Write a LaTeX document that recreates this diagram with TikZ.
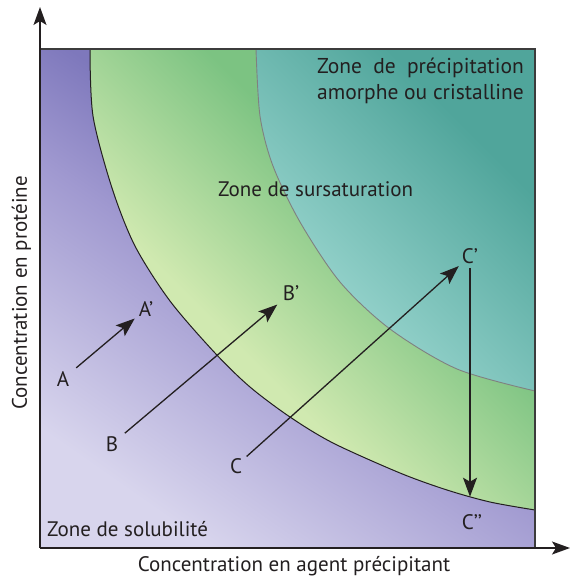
\documentclass[tikz,border=0pt]{standalone}
\usepackage{fontspec}
\setmainfont{PT Sans}
\usetikzlibrary{arrows.meta}

\definecolor{txt}{RGB}{35,31,32}
\definecolor{frame}{RGB}{60,60,60}
\definecolor{solA}{RGB}{216,213,237}
\definecolor{solM}{RGB}{160,153,208}
\definecolor{solB}{RGB}{126,120,188}
\definecolor{surA}{RGB}{208,233,176}
\definecolor{surB}{RGB}{124,195,130}
\definecolor{preA}{RGB}{150,211,204}
\definecolor{preB}{RGB}{80,165,155}

\pgfdeclarehorizontalshading{solzone}{100bp}{color(0bp)=(solA); color(25bp)=(solA); color(47bp)=(solM); color(58bp)=(solB); color(100bp)=(solB)}
\pgfdeclarehorizontalshading{surzone}{100bp}{color(0bp)=(surA); color(43bp)=(surA); color(62bp)=(surB); color(100bp)=(surB)}
\pgfdeclarehorizontalshading{prezone}{100bp}{color(0bp)=(preA); color(53bp)=(preA); color(75bp)=(preB); color(100bp)=(preB)}

\newlength{\precw}

\begin{document}
\settowidth{\precw}{\fontsize{21.5}{25}\selectfont amorphe ou cristalline}%
\begin{tikzpicture}[x=1pt, y=-1pt,
  lbl/.style={font=\fontsize{21}{25}\selectfont, text=txt, inner sep=0pt},
  arr/.style={-{Stealth[length=19pt, width=14pt, inset=4pt]}, line width=1.3pt, draw=txt},
  axis/.style={-{Stealth[length=18pt, width=13pt, inset=4pt]}, line width=1.3pt, draw=txt}]
  \useasboundingbox (0,0) rectangle (571,579);
  % zones
  \shade[shading=solzone, shading angle=55] (40,49) rectangle (535,548);
  \begin{scope}
    \clip (90,49) -- plot[smooth] coordinates {(90,49) (93,116) (112,188) (135,246) (170,301) (215,353) (250,387) (290,417) (333,443) (400,473) (447,490) (490,502) (535,510)} -- (535,49) -- cycle;
    \shade[shading=surzone, shading angle=45] (40,49) rectangle (535,548);
  \end{scope}
  \begin{scope}
    \clip (256,49) -- plot[smooth] coordinates {(256,49) (260,116) (273,166) (300,222) (340,282) (390,329) (457,369) (535,391)} -- (535,49) -- cycle;
    \shade[shading=prezone, shading angle=45] (40,49) rectangle (535,548);
  \end{scope}
  % boundaries
  \draw[line width=1pt, txt] plot[smooth] coordinates {(90,49) (93,116) (112,188) (135,246) (170,301) (215,353) (250,387) (290,417) (333,443) (400,473) (447,490) (490,502) (535,510)};
  \draw[line width=0.9pt, gray] plot[smooth] coordinates {(256,49) (260,116) (273,166) (300,222) (340,282) (390,329) (457,369) (535,391)};
  % frame and axes
  \draw[line width=1.2pt, frame] (40,49) -- (535,49) -- (535,548);
  \coordinate (O) at (40,548);
  \coordinate (ytop) at (40,7);
  \coordinate (xend) at (570,548);
  \draw[axis] (O) -- (ytop);
  \draw[axis] (O) -- (xend);
  % zone labels
  \node[lbl, font=\fontsize{21.5}{25}\selectfont, anchor=base east] (prec1) at (524,73) {\makebox[\precw][s]{Zone de précipitation}};
  \node[lbl, font=\fontsize{21.5}{25}\selectfont, anchor=base east] (prec2) at (524,99) {amorphe ou cristalline};
  \node[lbl, anchor=base west] (sur) at (218,196) {Zone de sursaturation};
  \node[lbl, anchor=base west] (sol) at (47,536) {Zone de solubilité};
  % axis labels
  \node[lbl, anchor=base] (xlab) at (294,571) {Concentration en agent précipitant};
  \node[lbl, anchor=base, rotate=90] (ylab) at (27,293) {Concentration en protéine};
  % points
  \node[lbl] (A) at (63,379) {A};
  \node[lbl] (Ap) at (146,309) {A’};
  \node[lbl] (B) at (112,444) {B};
  \node[lbl] (Bp) at (291,293) {B’};
  \node[lbl] (C) at (236,466) {C};
  \node[lbl] (Cp) at (470,256) {C’};
  \node[lbl] (Cpp) at (472,522) {C’’};
  % paths
  \draw[arr, shorten <=9pt, shorten >=5pt] (A) -- (Ap);
  \draw[arr, shorten <=8.5pt, shorten >=7pt] (B) -- (Bp);
  \draw[arr, shorten <=6pt, shorten >=4pt] (C) -- (Cp);
  \draw[arr, shorten <=4.5pt, shorten >=17.5pt] (Cp.south) -- (Cp.south |- Cpp.north);
\end{tikzpicture}
\end{document}
